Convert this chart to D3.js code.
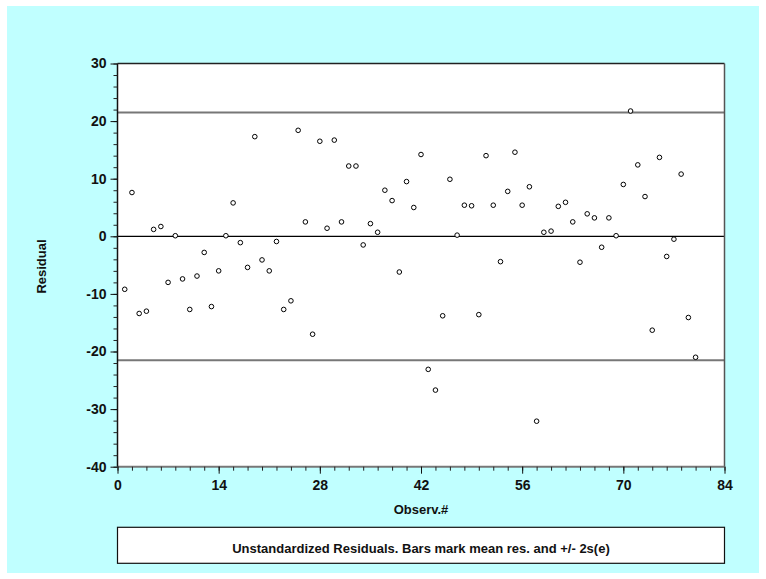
<!DOCTYPE html>
<html><head><meta charset="utf-8">
<script src="https://cdn.jsdelivr.net/npm/d3@7"></script>
<style>body{margin:0;background:#fff}svg{display:block}text{font-family:"Liberation Sans",Arial,sans-serif;font-weight:bold;fill:#111}</style>
</head><body><svg id="c" width="766" height="579"></svg>
<script>
const observations = d3.range(1, 81);
const residuals = [-9.2,7.6,-13.4,-13.0,1.2,1.7,-8.0,0.1,-7.4,-12.7,
 -6.9,-2.8,-12.2,-6.0,0.1,5.8,-1.1,-5.4,17.3,-4.1,
 -6.0,-0.9,-12.7,-11.2,18.4,2.5,-17.0,16.5,1.4,16.7,
 2.5,12.2,12.2,-1.5,2.2,0.7,8.0,6.2,-6.2,9.5,
 5.0,14.2,-23.1,-26.7,-13.8,9.9,0.2,5.4,5.3,-13.6,
 14.0,5.4,-4.4,7.8,14.6,5.4,8.6,-32.1,0.7,0.9,
 5.2,5.9,2.5,-4.5,3.9,3.2,-1.9,3.2,0.1,9.0,
 21.75,12.4,6.9,-16.3,13.7,-3.5,-0.5,10.8,-14.1,-21.0];
const refLines = [0, 21.5, -21.5];
const xTicks = [0,14,28,42,56,70,84];
const yTicks = [30,20,10,0,-10,-20,-30,-40];
const xLabel = "Observ.#", yLabel = "Residual";
const caption = "Unstandardized Residuals. Bars mark mean res. and +/- 2s(e)";

const svg = d3.select("#c");
svg.append("rect").attr("x",7).attr("y",6).attr("width",752).attr("height",567).attr("fill","#c0ffff");
const L=117.5,R=724.5,T=63.5,B=466.7;
const x = d3.scaleLinear().domain([0,84]).range([L,R]);
const y = d3.scaleLinear().domain([-40,30]).range([B,T]);
svg.append("rect").attr("x",L).attr("y",T).attr("width",R-L).attr("height",B-T).attr("fill","#fff");

// reference lines
svg.selectAll(".ref").data(refLines).enter().append("line")
 .attr("x1",L).attr("x2",R).attr("y1",d=>y(d)).attr("y2",d=>y(d))
 .attr("stroke",d=>d===0?"#000":"#777").attr("stroke-width",d=>d===0?1.2:2);

// frame
svg.append("line").attr("x1",L).attr("x2",R).attr("y1",T).attr("y2",T).attr("stroke","#222").attr("stroke-width",1.5);
svg.append("line").attr("x1",R).attr("x2",R).attr("y1",T).attr("y2",B).attr("stroke","#555").attr("stroke-width",1.5);
svg.append("line").attr("x1",L).attr("x2",R).attr("y1",B).attr("y2",B).attr("stroke","#777").attr("stroke-width",2);
svg.append("line").attr("x1",L).attr("x2",L).attr("y1",T).attr("y2",B).attr("stroke","#111").attr("stroke-width",1.5);

const fmt = d => String(d);
// y axis
const ya = svg.append("g").attr("transform",`translate(${L},0)`)
 .call(d3.axisLeft(y).tickValues(d3.range(-40,31,2)).tickSize(4).tickFormat(""));
ya.select(".domain").remove();
ya.selectAll(".tick line").attr("stroke","#222");
const yb = svg.append("g").attr("transform",`translate(${L},0)`)
 .call(d3.axisLeft(y).tickValues(yTicks).tickSize(7).tickPadding(4).tickFormat(fmt));
yb.select(".domain").remove();
yb.selectAll(".tick line").attr("stroke","#111");
yb.selectAll("text").attr("font-size",14).attr("fill","#111").attr("font-family","Liberation Sans, Arial").attr("font-weight","bold");

// x axis
const xa = svg.append("g").attr("transform",`translate(0,${B})`)
 .call(d3.axisBottom(x).tickValues(d3.range(0,85,2)).tickSize(4).tickFormat(""));
xa.select(".domain").remove();
xa.selectAll(".tick line").attr("stroke","#222");
const xb = svg.append("g").attr("transform",`translate(0,${B})`)
 .call(d3.axisBottom(x).tickValues(xTicks).tickSize(7).tickPadding(6).tickFormat(fmt));
xb.select(".domain").remove();
xb.selectAll(".tick line").attr("stroke","#111");
xb.selectAll("text").attr("font-size",14).attr("fill","#111").attr("font-family","Liberation Sans, Arial").attr("font-weight","bold");

// points
svg.selectAll(".pt").data(observations).enter().append("circle")
 .attr("cx",d=>x(d)).attr("cy",(d,i)=>y(residuals[i])).attr("r",2.3)
 .attr("fill","#fff").attr("stroke","#000").attr("stroke-width",1);

// labels
svg.append("text").attr("x",(L+R)/2).attr("y",514).attr("text-anchor","middle").attr("font-size",13).text(xLabel);
svg.append("text").attr("transform","translate(46,266.5) rotate(-90)").attr("text-anchor","middle").attr("font-size",13).text(yLabel);

svg.append("rect").attr("x",L).attr("y",527.3).attr("width",R-L).attr("height",36).attr("fill","#fff").attr("stroke","#111").attr("stroke-width",1.2);
svg.append("text").attr("x",(L+R)/2).attr("y",552.5).attr("text-anchor","middle").attr("font-size",13).text(caption);
</script></body></html>
